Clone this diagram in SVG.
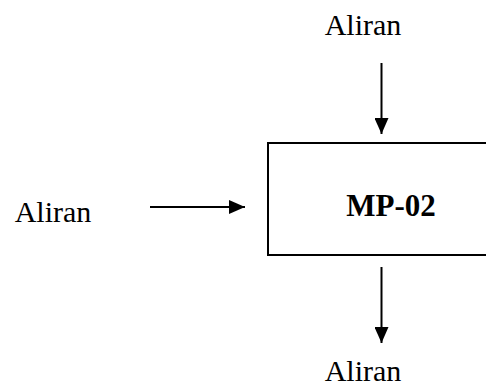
<svg xmlns="http://www.w3.org/2000/svg" width="486" height="389" viewBox="0 0 486 389">
<style>
.t{font-family:"Liberation Serif","Times New Roman",serif;font-size:30px;fill:#000}
.b{font-weight:bold;font-size:31px}
.c{stroke:#000;stroke-width:2;fill:none}
</style>
<defs>
<marker id="ah" markerUnits="userSpaceOnUse" markerWidth="16" markerHeight="14" refX="16" refY="7" orient="auto">
<path d="M0,0 L16,7 L0,14 Z" fill="#000"/>
</marker>
</defs>
<rect width="486" height="389" fill="#fff"/>
<g id="mp02">
<rect x="268" y="143" width="230" height="112" fill="#fff" stroke="#000" stroke-width="2"/>
<text class="t b" x="391" y="216" text-anchor="middle">MP-02</text>
</g>
<g id="in-top"><text class="t" x="363" y="35" text-anchor="middle">Aliran</text></g>
<g id="in-left"><text class="t" x="53" y="222" text-anchor="middle">Aliran</text></g>
<g id="out-bottom"><text class="t" x="363" y="381" text-anchor="middle">Aliran</text></g>
<g id="connectors">
<line class="c" x1="381.5" y1="63" x2="381.5" y2="134" marker-end="url(#ah)"/>
<line class="c" x1="150" y1="207" x2="245" y2="207" marker-end="url(#ah)"/>
<line class="c" x1="381.5" y1="267" x2="381.5" y2="343" marker-end="url(#ah)"/>
</g>
</svg>
